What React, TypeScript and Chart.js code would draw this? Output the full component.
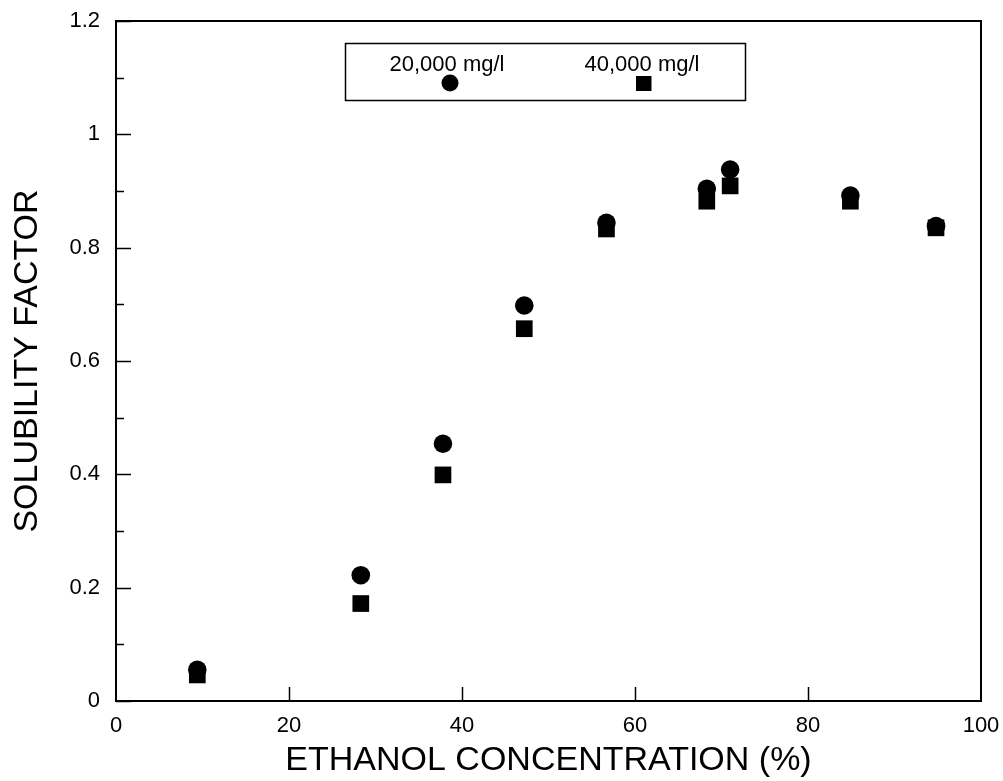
import React, { useEffect, useRef } from "react";
import { Chart, registerables } from "chart.js";

Chart.register(...registerables);

const concentration = [9.4, 28.3, 37.8, 47.2, 56.7, 68.3, 71.0, 84.9, 94.8];
const solubility20000 = [0.055, 0.222, 0.454, 0.698, 0.844, 0.904, 0.938, 0.892, 0.838];
const solubility40000 = [0.046, 0.172, 0.399, 0.657, 0.833, 0.882, 0.909, 0.882, 0.835];
const seriesLabels = ["20,000 mg/l", "40,000 mg/l"];
const xTickLabels = ["0", "20", "40", "60", "80", "100"];
const yTickLabels = ["0", "0.2", "0.4", "0.6", "0.8", "1", "1.2"];
const xTitle = "ETHANOL CONCENTRATION (%)";
const yTitle = "SOLUBILITY FACTOR";

const FONT = "'Liberation Sans', Arial, Helvetica, sans-serif";

const framePlugin = {
  id: "frameAndTicks",
  afterDraw(chart: any) {
    const { ctx, chartArea, scales } = chart;
    const { left, right, top, bottom } = chartArea;
    ctx.save();
    ctx.strokeStyle = "#000";
    ctx.lineWidth = 2;
    ctx.strokeRect(left, top, right - left, bottom - top);
    ctx.lineWidth = 1.5;
    const ys = scales.y;
    for (let i = 0; i <= 12; i++) {
      const v = i / 10;
      const py = Math.round(ys.getPixelForValue(v)) + 0.5;
      const len = i % 2 === 0 ? 15 : 8;
      ctx.beginPath();
      ctx.moveTo(left, py);
      ctx.lineTo(left + len, py);
      ctx.stroke();
    }
    const xs = scales.x;
    xs.ticks.forEach((t: any) => {
      if (t.value <= xs.min || t.value >= xs.max) return;
      const px = Math.round(xs.getPixelForValue(t.value)) + 0.5;
      ctx.beginPath();
      ctx.moveTo(px, bottom);
      ctx.lineTo(px, bottom - 14);
      ctx.stroke();
    });
    ctx.lineWidth = 1.5;
    ctx.strokeRect(345.5, 43.5, 400, 57);
    ctx.fillStyle = "#000";
    ctx.font = `22px ${FONT}`;
    ctx.textAlign = "center";
    ctx.textBaseline = "alphabetic";
    ctx.fillText(chart.data.datasets[0].label, 447, 71);
    ctx.fillText(chart.data.datasets[1].label, 642, 71);
    ctx.beginPath();
    ctx.arc(450, 83, 8.5, 0, Math.PI * 2);
    ctx.fill();
    ctx.fillRect(636, 76, 15.5, 15);
    ctx.restore();
  },
};

export default function App() {
  const canvasRef = useRef<HTMLCanvasElement | null>(null);

  useEffect(() => {
    const canvas = canvasRef.current;
    if (!canvas) return;
    const chart = new Chart(canvas, {
      type: "scatter",
      data: {
        datasets: [
          {
            label: seriesLabels[0],
            data: concentration.map((x, i) => ({ x, y: solubility20000[i] })),
            pointStyle: "circle",
            pointRadius: 9.3,
            pointHoverRadius: 9.3,
            backgroundColor: "#000",
            borderColor: "#000",
            borderWidth: 0,
          },
          {
            label: seriesLabels[1],
            data: concentration.map((x, i) => ({ x, y: solubility40000[i] })),
            pointStyle: "rect",
            pointRadius: 11.8,
            pointHoverRadius: 11.8,
            backgroundColor: "#000",
            borderColor: "#000",
            borderWidth: 0,
          },
        ],
      },
      options: {
        responsive: false,
        animation: false,
        events: [],
        layout: { padding: { left: 0, right: 22, top: 21, bottom: 0 } },
        plugins: {
          legend: { display: false },
          tooltip: { enabled: false },
        },
        scales: {
          x: {
            type: "linear",
            min: 0,
            max: 100,
            ticks: {
              stepSize: 20,
              color: "#000",
              padding: 12,
              font: { family: FONT, size: 22 },
              callback: (_v: any, i: number) => xTickLabels[i],
            },
            grid: { display: false, drawTicks: false },
            border: { display: false },
            title: {
              display: true,
              text: xTitle,
              color: "#000",
              font: { family: FONT, size: 34 },
              padding: { top: 0, bottom: 0 },
            },
            afterFit: (s: any) => {
              s.height = 80;
              s.paddingLeft = 0;
              s.paddingRight = 0;
            },
          },
          y: {
            type: "linear",
            min: 0,
            max: 1.2,
            ticks: {
              stepSize: 0.2,
              color: "#000",
              padding: 16,
              font: { family: FONT, size: 22 },
              callback: (_v: any, i: number) => yTickLabels[i],
            },
            grid: { display: false, drawTicks: false },
            border: { display: false },
            title: {
              display: true,
              text: yTitle,
              color: "#000",
              font: { family: FONT, size: 34 },
              padding: { top: 7, bottom: 0 },
            },
            afterFit: (s: any) => {
              s.width = 116;
              s.paddingTop = 0;
              s.paddingBottom = 0;
            },
          },
        },
      },
      plugins: [framePlugin],
    });
    return () => chart.destroy();
  }, []);

  return (
    <div style={{ position: "absolute", left: 0, top: 0, width: 1003, height: 781, background: "#fff" }}>
      <canvas ref={canvasRef} width={1003} height={781} />
    </div>
  );
}
